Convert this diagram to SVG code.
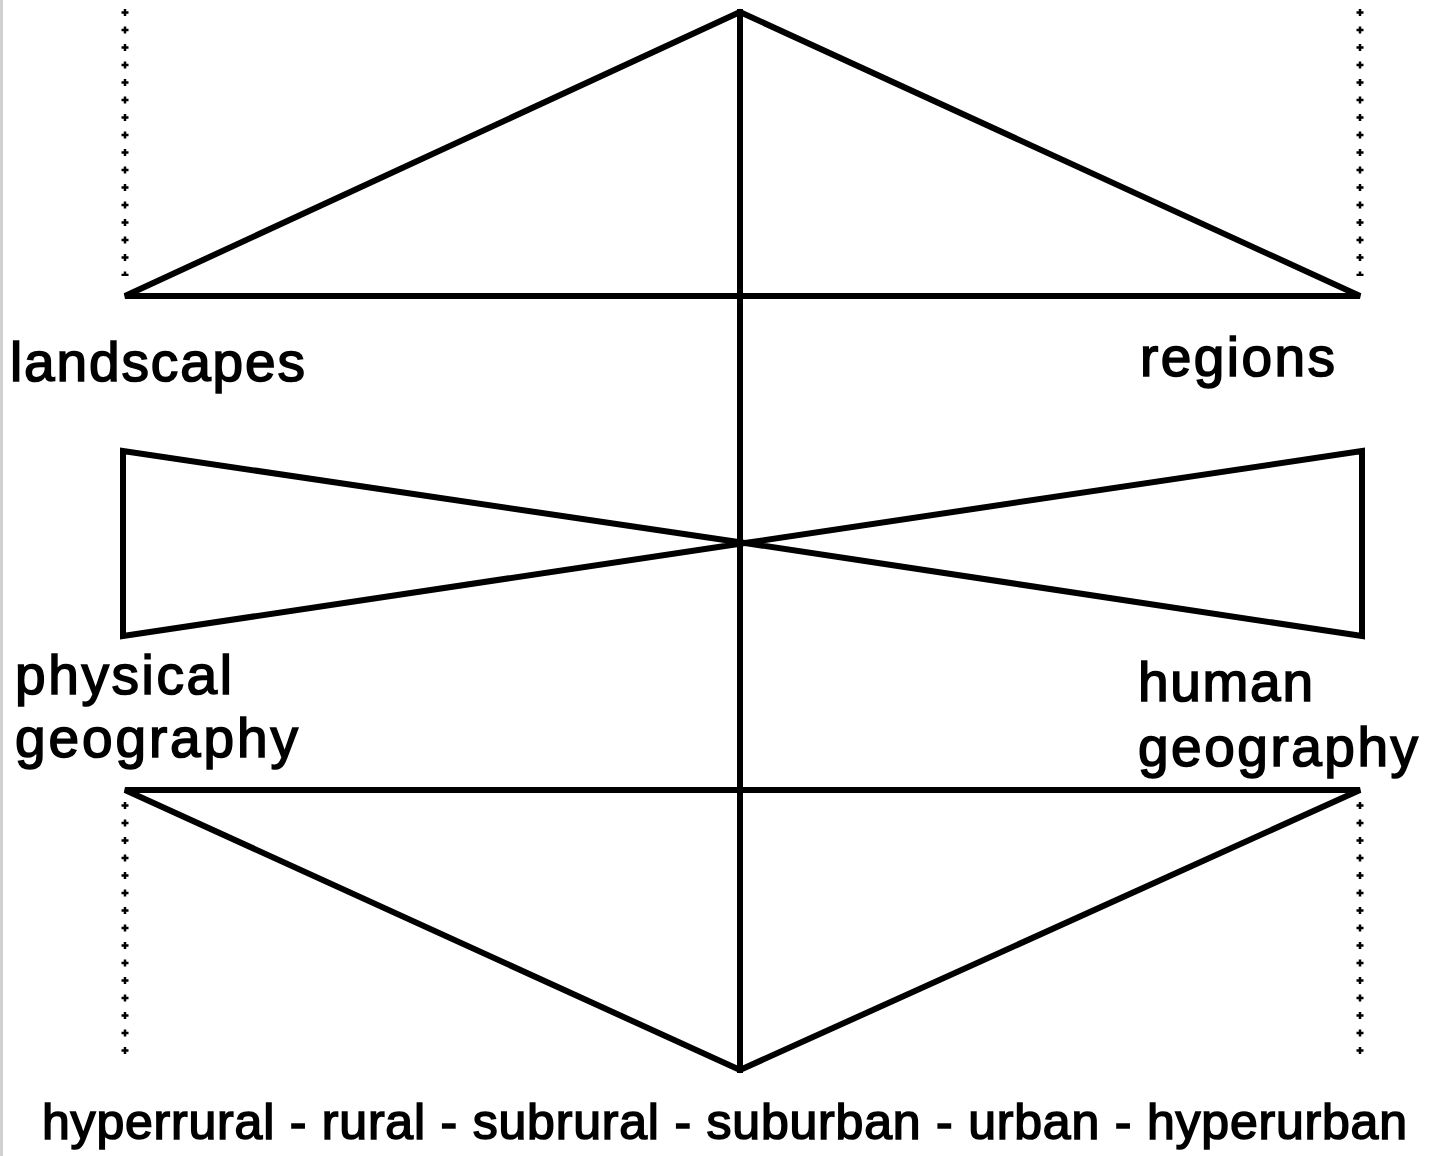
<svg xmlns="http://www.w3.org/2000/svg" width="1456" height="1156" viewBox="0 0 1456 1156">
<style>
.ln{stroke:#000;stroke-width:6;fill:none;stroke-linejoin:miter;stroke-linecap:square}
.dv{stroke:#000;stroke-width:2.5;stroke-dasharray:7 10.5;fill:none}
.dh{stroke:#000;stroke-width:7;stroke-dasharray:2.5 15;stroke-dashoffset:-2.25;fill:none}
.t{font-family:"Liberation Sans",Arial,sans-serif;font-size:55px;font-weight:normal;fill:#000;stroke:#000;stroke-width:1.6}
.t.s{font-size:50px}
</style>
<rect width="1456" height="1156" fill="#fff"/>
<line x1="1.5" y1="0" x2="1.5" y2="1156" stroke="#d0d0d0" stroke-width="3"/>
<g id="connectors">
<line class="ln" x1="740" y1="12" x2="740" y2="1070"/>
<g id="dotted">
<line class="dv" x1="125" y1="9" x2="125" y2="276"/>
<line class="dh" x1="125" y1="9" x2="125" y2="276"/>
<line class="dv" x1="1360" y1="9" x2="1360" y2="276"/>
<line class="dh" x1="1360" y1="9" x2="1360" y2="276"/>
<line class="dv" x1="125" y1="802" x2="125" y2="1058"/>
<line class="dh" x1="125" y1="802" x2="125" y2="1058"/>
<line class="dv" x1="1360" y1="802" x2="1360" y2="1058"/>
<line class="dh" x1="1360" y1="802" x2="1360" y2="1058"/>
</g>
</g>
<g id="top-triangle">
<polygon class="ln" points="740,12 125,296 1360,296"/>
</g>
<g id="bowtie">
<polygon class="ln" points="123,451 745,543 123,636"/>
<polygon class="ln" points="1362,451 745,543 1362,636"/>
</g>
<g id="bottom-triangle">
<polygon class="ln" points="125,790 1360,790 740,1070"/>
</g>
<g id="label-landscapes"><text class="t" x="10" y="381" textLength="295" lengthAdjust="spacing">landscapes</text></g>
<g id="label-regions"><text class="t" x="1140" y="376" textLength="195" lengthAdjust="spacing">regions</text></g>
<g id="label-physical"><text class="t" x="15" y="694" textLength="217" lengthAdjust="spacing">physical</text><text class="t" x="15" y="757" textLength="283" lengthAdjust="spacing">geography</text></g>
<g id="label-human"><text class="t" x="1138" y="701" textLength="175" lengthAdjust="spacing">human</text><text class="t" x="1138" y="766" textLength="280" lengthAdjust="spacing">geography</text></g>
<g id="label-scale"><text class="t s" x="42" y="1139" textLength="1365" lengthAdjust="spacing">hyperrural - rural - subrural - suburban - urban - hyperurban</text></g>
</svg>
